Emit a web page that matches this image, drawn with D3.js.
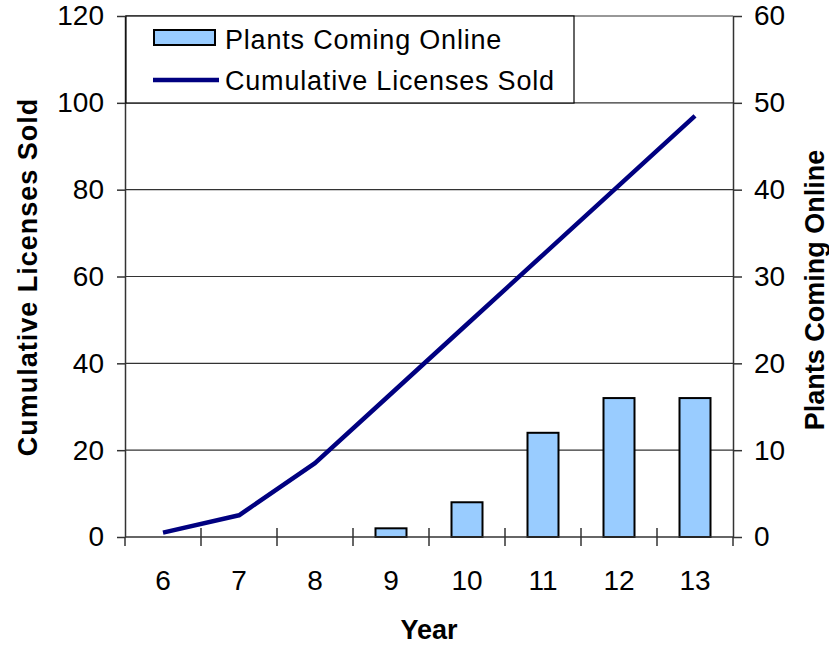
<!DOCTYPE html>
<html>
<head>
<meta charset="utf-8">
<script src="https://cdn.jsdelivr.net/npm/d3@7"></script>
<style>
  html, body { margin: 0; padding: 0; background: #fff; }
  svg { display: block; font-family: "Liberation Sans", Arial, sans-serif; }
</style>
</head>
<body>
<svg id="chart" width="829" height="645"></svg>
<script>
const years = ["6", "7", "8", "9", "10", "11", "12", "13"];
const cumulativeLicenses = [1, 5, 17, 33, 49, 65, 81, 97];
const plantsOnline = [0, 0, 0, 1, 4, 12, 16, 16];
const leftTicks = [0, 20, 40, 60, 80, 100, 120];
const rightTicks = [0, 10, 20, 30, 40, 50, 60];

const svg = d3.select("#chart");
const L = 125, R = 733, T = 16, B = 537;

const x = d3.scaleBand().domain(years).range([L, R]).paddingInner(0).paddingOuter(0);
const yL = d3.scaleLinear().domain([0, 120]).range([B, T]);
const yR = d3.scaleLinear().domain([0, 60]).range([B, T]);

// gridlines
svg.append("g").selectAll("line").data(leftTicks.filter(d => d > 0)).join("line")
  .attr("x1", L).attr("x2", R)
  .attr("y1", d => yL(d)).attr("y2", d => yL(d))
  .attr("stroke", "#333").attr("stroke-width", 1.2);

// bars
const bw = 31;
svg.append("g").selectAll("rect")
  .data(years.map((y, i) => ({y, v: plantsOnline[i]})).filter(d => d.v > 0))
  .join("rect")
  .attr("x", d => x(d.y) + x.bandwidth() / 2 - bw / 2)
  .attr("width", bw)
  .attr("y", d => yR(d.v))
  .attr("height", d => B - yR(d.v))
  .attr("fill", "#99ccff").attr("stroke", "#000").attr("stroke-width", 2);

// left axis
const axL = svg.append("g").attr("transform", `translate(${L},0)`)
  .call(d3.axisLeft(yL).tickValues(leftTicks).tickSize(8).tickPadding(13).tickSizeOuter(0));
// right axis
const axR = svg.append("g").attr("transform", `translate(${R},0)`)
  .call(d3.axisRight(yR).tickValues(rightTicks).tickSize(9).tickPadding(12).tickSizeOuter(0));
// bottom axis
const axB = svg.append("g").attr("transform", `translate(0,${B})`)
  .call(d3.axisBottom(x).tickSize(0).tickPadding(53).tickSizeOuter(0));

[axL, axR, axB].forEach(g => {
  g.select(".domain").attr("stroke", "#333").attr("stroke-width", 1.5);
  g.selectAll(".tick line").attr("stroke", "#333").attr("stroke-width", 1.5);
  g.selectAll("text").attr("font-size", 28).attr("fill", "#000")
    .attr("font-family", "'Liberation Sans', Arial, sans-serif");
});
axB.selectAll("text").attr("dy", 0);
axB.select(".domain").attr("d", `M${L},0H${R}`);

// category boundary ticks on x axis
const bounds = years.map(y => x(y)).concat([x(years[years.length - 1]) + x.step()]);
svg.append("g").selectAll("line").data(bounds).join("line")
  .attr("x1", d => d).attr("x2", d => d)
  .attr("y1", (d, i) => (i === 0 || i === bounds.length - 1) ? B : B - 9)
  .attr("y2", B + 9)
  .attr("stroke", "#333").attr("stroke-width", 1.5);

// line
const line = d3.line()
  .x((d, i) => x(years[i]) + x.bandwidth() / 2)
  .y(d => yL(d));
svg.append("path").datum(cumulativeLicenses)
  .attr("d", line).attr("fill", "none")
  .attr("stroke", "#000080").attr("stroke-width", 4.5).attr("stroke-linejoin", "round");

// legend
const lg = svg.append("g");
lg.append("rect").attr("x", 126).attr("y", 16).attr("width", 448).attr("height", 87)
  .attr("fill", "#fff").attr("stroke", "#000").attr("stroke-width", 1.2);
lg.append("rect").attr("x", 154).attr("y", 30).attr("width", 61).attr("height", 15)
  .attr("fill", "#99ccff").attr("stroke", "#000").attr("stroke-width", 2);
lg.append("line").attr("x1", 153).attr("x2", 219).attr("y1", 80).attr("y2", 80)
  .attr("stroke", "#000080").attr("stroke-width", 4.5);
lg.append("text").attr("x", 225).attr("y", 49).attr("font-size", 27).attr("letter-spacing", 0.8)
  .text("Plants Coming Online");
lg.append("text").attr("x", 225).attr("y", 90).attr("font-size", 27).attr("letter-spacing", 0.8)
  .text("Cumulative Licenses Sold");

// axis titles
svg.append("text").attr("x", 429).attr("y", 639).attr("text-anchor", "middle")
  .attr("font-size", 27).attr("font-weight", "bold").text("Year");
svg.append("text").attr("transform", "translate(37,277) rotate(-90)").attr("text-anchor", "middle")
  .attr("font-size", 27).attr("font-weight", "bold").attr("letter-spacing", 1)
  .text("Cumulative Licenses Sold");
svg.append("text").attr("transform", "translate(824,290) rotate(-90)").attr("text-anchor", "middle")
  .attr("font-size", 27).attr("font-weight", "bold").text("Plants Coming Online");
</script>
</body>
</html>
